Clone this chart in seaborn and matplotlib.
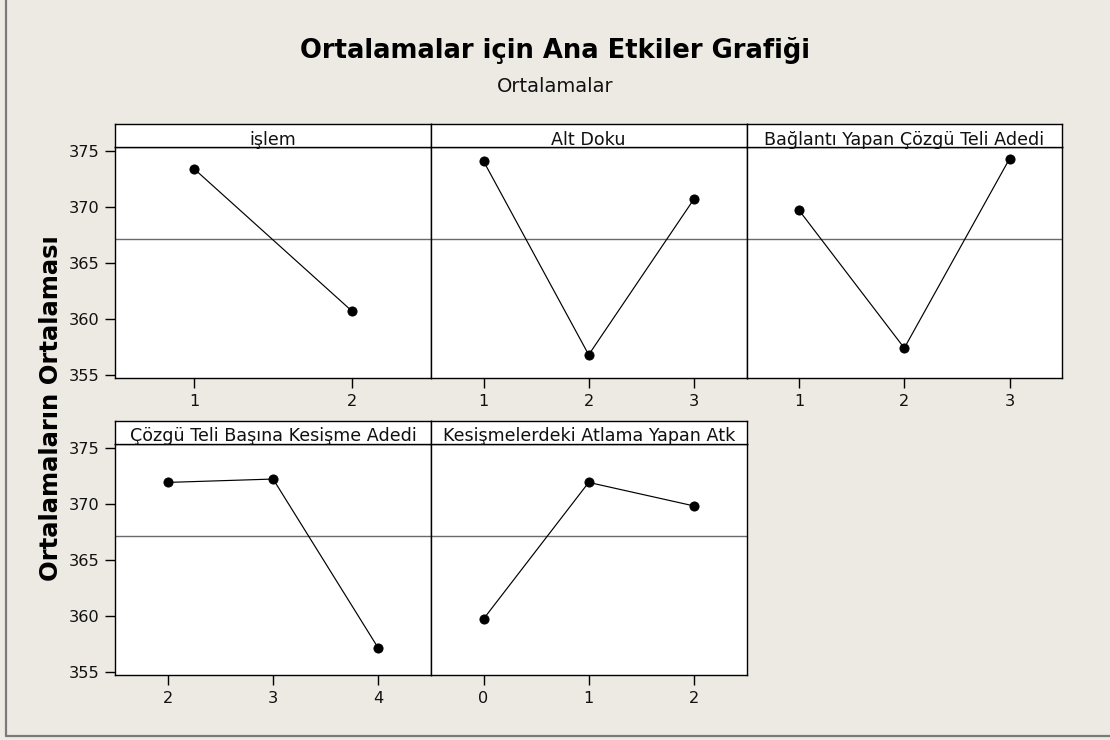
import matplotlib
matplotlib.use("Agg")
import matplotlib.pyplot as plt
from matplotlib.lines import Line2D
import seaborn as sns

# Factor names (panel headers)
factors = [
    "işlem",
    "Alt Doku",
    "Bağlantı Yapan Çözgü Teli Adedi",
    "Çözgü Teli Başına Kesişme Adedi",
    "Kesişmelerdeki Atlama Yapan Atk",
]

# Factor levels (x tick labels)
levels_islem = ["1", "2"]
levels_alt_doku = ["1", "2", "3"]
levels_baglanti = ["1", "2", "3"]
levels_kesisme = ["2", "3", "4"]
levels_atlama = ["0", "1", "2"]

# Level means
means_islem = [373.4, 360.7]
means_alt_doku = [374.1, 356.8, 370.7]
means_baglanti = [369.7, 357.4, 374.3]
means_kesisme = [371.9, 372.2, 357.1]
means_atlama = [359.7, 371.9, 369.8]

grand_mean = 367.1
y_ticks = [355, 360, 365, 370, 375]

title = "Ortalamalar için Ana Etkiler Grafiği"
subtitle = "Ortalamalar"
y_label = "Ortalamaların Ortalaması"

panels = [
    (factors[0], levels_islem, means_islem),
    (factors[1], levels_alt_doku, means_alt_doku),
    (factors[2], levels_baglanti, means_baglanti),
    (factors[3], levels_kesisme, means_kesisme),
    (factors[4], levels_atlama, means_atlama),
]

sns.set_style("ticks")
plt.rcParams["font.family"] = ["DejaVu Sans"]

BG = "#EDE9E3"
W, H = 1110, 740
fig = plt.figure(figsize=(W / 100, H / 100), dpi=100, facecolor=BG)

# panel geometry in pixels
left0 = 115.3
pw = 315.6
rows = [  # (strip top, data top, data bottom)
    (124.0, 147.3, 378.3),
    (421.0, 444.0, 675.0),
]

for i, (name, levels, means) in enumerate(panels):
    r, c = divmod(i, 3)
    st, dt, db = rows[r]
    x0 = left0 + c * pw

    ax = fig.add_axes([x0 / W, 1 - db / H, pw / W, (db - dt) / H])
    ax.set_facecolor("white")
    sns.pointplot(x=levels, y=means, ax=ax, color="black", markers="o",
                  markersize=6.6, linewidth=0.85, errorbar=None)
    ax.axhline(grand_mean, color="#6a6a6a", lw=1.0, zorder=0)
    ax.set_ylim(354.7, 375.33)
    ax.set_yticks(y_ticks)
    ax.set_xlabel("")
    ax.set_ylabel("")
    for s in ax.spines.values():
        s.set_color("black")
        s.set_linewidth(1.0)
    ax.tick_params(axis="both", direction="out", length=7, width=1.0,
                   color="black", labelsize=11.6, pad=4.5, labelcolor="#111111")
    if c != 0:
        ax.tick_params(axis="y", left=False, labelleft=False)

    # header strip
    hx = fig.add_axes([x0 / W, 1 - dt / H, pw / W, (dt - st) / H])
    hx.set_facecolor("white")
    hx.set_xticks([])
    hx.set_yticks([])
    for s in hx.spines.values():
        s.set_color("black")
        s.set_linewidth(1.0)
    hx.text(0.5, 0.12, name, ha="center", va="baseline", fontsize=12.6,
            color="#111111", transform=hx.transAxes)

fig.text(0.5, 1 - 50 / H, title, ha="center", va="center",
         fontsize=18.6, fontweight="bold", color="black")
fig.text(0.5, 1 - 87 / H, subtitle, ha="center", va="center",
         fontsize=14, color="#111111")
fig.text(51 / W, 1 - 408 / H, y_label, ha="center", va="center",
         rotation=90, fontsize=17.5, fontweight="bold", color="black")

# outer frame (left and bottom edges)
fig.add_artist(Line2D([6 / W, 6 / W], [1 - 736 / H, 1.0], transform=fig.transFigure,
                      color="#7a7a7a", lw=1.6))
fig.add_artist(Line2D([6 / W, 1.0], [1 - 736 / H, 1 - 736 / H], transform=fig.transFigure,
                      color="#7a7a7a", lw=1.6))

fig.savefig("out.png", dpi=100, facecolor=BG)
